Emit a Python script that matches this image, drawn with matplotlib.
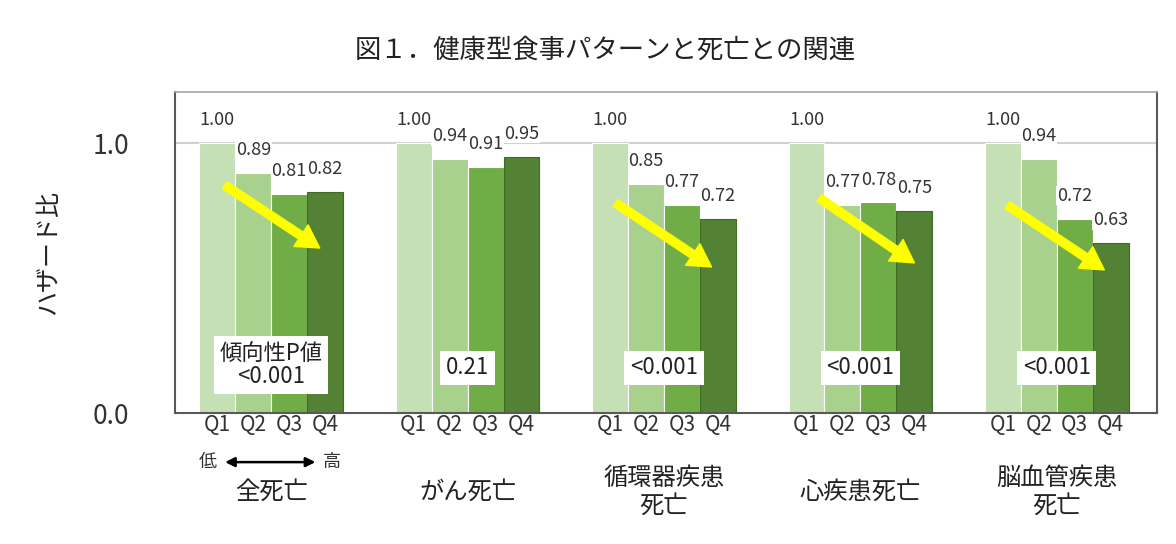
import matplotlib
matplotlib.use("Agg")
import matplotlib.pyplot as plt
import numpy as np

plt.rcParams['font.family'] = ['Noto Sans CJK JP', 'DejaVu Sans']

# datos del grafico
causas = ["全死亡", "がん死亡", "循環器疾患\n死亡", "心疾患死亡", "脳血管疾患\n死亡"]
cuartiles = ["Q1", "Q2", "Q3", "Q4"]
q1 = [1.00, 1.00, 1.00, 1.00, 1.00]
q2 = [0.89, 0.94, 0.85, 0.77, 0.94]
q3 = [0.81, 0.91, 0.77, 0.78, 0.72]
q4 = [0.82, 0.95, 0.72, 0.75, 0.63]
p_valores = ["傾向性P値\n<0.001", "0.21", "<0.001", "<0.001", "<0.001"]
p_altura = [0.178, 0.167, 0.167, 0.167, 0.168]
# flechas de tendencia (inicio y fin en unidades de datos, relativas al grupo)
flecha_ini = [(-0.237, 0.844), None, (-0.247, 0.778), (-0.209, 0.796), (-0.252, 0.770)]
flecha_fin = [(0.247, 0.611), None, (0.242, 0.541), (0.275, 0.556), (0.242, 0.530)]

colores = ["#c5e0b4", "#a9d18e", "#70ad47", "#548235"]
bordes = ["white", "white", "white", "#3f6b22"]

fig = plt.figure(figsize=(11.76, 5.44), dpi=100)
ax = fig.add_axes([0.1488, 0.2408, 0.835, 0.5901])

x = np.arange(len(causas))
w = 0.183
series = [q1, q2, q3, q4]
ticks_pos = []
ticks_lab = []
for i, vals in enumerate(series):
    pos = x + (i - 1.5) * w
    ax.bar(pos, vals, width=w, color=colores[i], edgecolor=bordes[i], linewidth=0.8, zorder=2)
    for p, v in zip(pos, vals):
        ax.annotate(f"{v:.2f}", xy=(p, v), xytext=(0, 10), textcoords="offset points",
                    ha="center", va="bottom", fontsize=13, color="#333333", zorder=5,
                    bbox=dict(facecolor="white", edgecolor="none", pad=0.5))
        ticks_pos.append(p)
        ticks_lab.append(cuartiles[i])

ax.axhline(1.0, color="#d0d0d0", linewidth=1.5, zorder=1)

# cajas con el valor P
for g in range(len(causas)):
    ax.text(x[g], p_altura[g], p_valores[g], ha="center", va="center", fontsize=16,
            color="#222222", zorder=6, linespacing=1.05,
            bbox=dict(facecolor="white", edgecolor="none", pad=4))

# flechas amarillas
for g in range(len(causas)):
    if flecha_ini[g] is None:
        continue
    x0, y0 = flecha_ini[g]
    x1, y1 = flecha_fin[g]
    ax.annotate("", xy=(x[g] + x1, y1), xytext=(x[g] + x0, y0),
                arrowprops=dict(arrowstyle="simple,head_length=1.35,head_width=1.55,tail_width=0.5",
                                mutation_scale=12, color="#ffff00", shrinkA=0, shrinkB=0),
                zorder=7)

ax.set_xlim(-0.49, 4.51)
ax.set_ylim(0, 1.189)
ax.set_yticks([0.0, 1.0])
ax.set_yticklabels(["0.0", "1.0"], fontsize=19, color="#333333")
ax.set_xticks(ticks_pos)
ax.set_xticklabels(ticks_lab, fontsize=15, color="#333333")
ax.tick_params(axis="y", length=0, pad=33)
ax.tick_params(axis="x", length=0, pad=1)

for s in ["left", "right", "bottom"]:
    ax.spines[s].set_color("#595959")
    ax.spines[s].set_linewidth(1.5)
ax.spines["top"].set_color("#a6a6a6")
ax.spines["top"].set_linewidth(1.2)

# nombres de causas
trans = ax.get_xaxis_transform()
for g in range(len(causas)):
    ax.text(x[g], -0.245, causas[g], transform=trans, ha="center", va="center",
            fontsize=17.5, color="#222222", linespacing=1.1, clip_on=False)

# bajo <-> alto
ax.text(x[0] - 0.323, -0.153, "低", transform=trans, ha="center", va="center",
        fontsize=13, color="#333333")
ax.text(x[0] + 0.308, -0.153, "高", transform=trans, ha="center", va="center",
        fontsize=13, color="#333333")
ax.annotate("", xy=(x[0] + 0.225, -0.153), xytext=(x[0] - 0.235, -0.153),
            xycoords=trans, textcoords=trans,
            arrowprops=dict(arrowstyle="<|-|>", color="black", lw=1.8,
                            mutation_scale=14, shrinkA=0, shrinkB=0))

fig.text(48 / 1176, 0.535, "ハザード比", rotation=90, ha="center", va="center",
         fontsize=18, color="#222222")
fig.text(605 / 1176, 0.908, "図１．健康型食事パターンと死亡との関連", ha="center", va="center",
         fontsize=19, color="#222222")

fig.savefig("out.png", dpi=100)
